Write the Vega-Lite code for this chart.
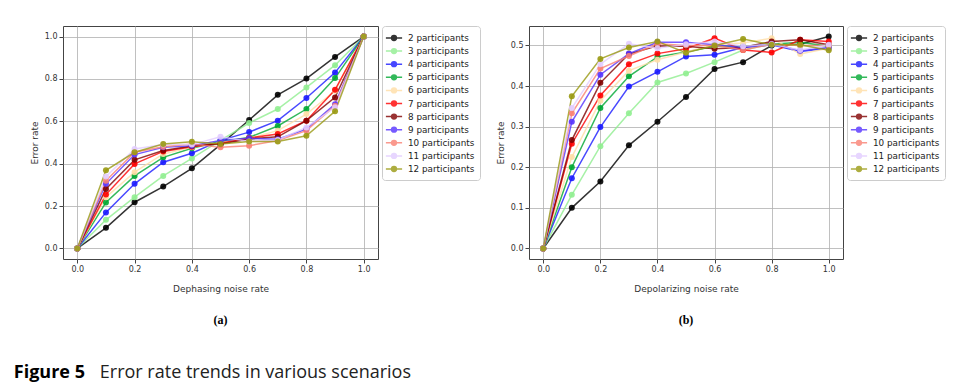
{
  "$schema": "https://vega.github.io/schema/vega-lite/v6.json",
  "background": "white",
  "padding": {"left": 13, "top": 25, "right": 4, "bottom": 8},
  "title": {"text": "Error rate trends in various scenarios", "orient": "bottom", "anchor": "start", "font": "Open Sans", "fontSize": 18, "fontWeight": "normal", "color": "#222222", "offset": -18, "dx": 86},
  "datasets": {
    "a": [
      {"s":"2 participants","x":0,"y":0},{"s":"2 participants","x":0.1,"y":0.097},{"s":"2 participants","x":0.2,"y":0.218},{"s":"2 participants","x":0.3,"y":0.292},{"s":"2 participants","x":0.4,"y":0.378},{"s":"2 participants","x":0.5,"y":0.49},{"s":"2 participants","x":0.6,"y":0.606},{"s":"2 participants","x":0.7,"y":0.725},{"s":"2 participants","x":0.8,"y":0.802},{"s":"2 participants","x":0.9,"y":0.904},{"s":"2 participants","x":1,"y":1},
      {"s":"3 participants","x":0,"y":0},{"s":"3 participants","x":0.1,"y":0.135},{"s":"3 participants","x":0.2,"y":0.242},{"s":"3 participants","x":0.3,"y":0.342},{"s":"3 participants","x":0.4,"y":0.425},{"s":"3 participants","x":0.5,"y":0.51},{"s":"3 participants","x":0.6,"y":0.592},{"s":"3 participants","x":0.7,"y":0.658},{"s":"3 participants","x":0.8,"y":0.76},{"s":"3 participants","x":0.9,"y":0.865},{"s":"3 participants","x":1,"y":1},
      {"s":"4 participants","x":0,"y":0},{"s":"4 participants","x":0.1,"y":0.17},{"s":"4 participants","x":0.2,"y":0.305},{"s":"4 participants","x":0.3,"y":0.407},{"s":"4 participants","x":0.4,"y":0.449},{"s":"4 participants","x":0.5,"y":0.51},{"s":"4 participants","x":0.6,"y":0.549},{"s":"4 participants","x":0.7,"y":0.603},{"s":"4 participants","x":0.8,"y":0.71},{"s":"4 participants","x":0.9,"y":0.83},{"s":"4 participants","x":1,"y":1},
      {"s":"5 participants","x":0,"y":0},{"s":"5 participants","x":0.1,"y":0.217},{"s":"5 participants","x":0.2,"y":0.342},{"s":"5 participants","x":0.3,"y":0.43},{"s":"5 participants","x":0.4,"y":0.473},{"s":"5 participants","x":0.5,"y":0.505},{"s":"5 participants","x":0.6,"y":0.524},{"s":"5 participants","x":0.7,"y":0.578},{"s":"5 participants","x":0.8,"y":0.658},{"s":"5 participants","x":0.9,"y":0.804},{"s":"5 participants","x":1,"y":1},
      {"s":"6 participants","x":0,"y":0},{"s":"6 participants","x":0.1,"y":0.242},{"s":"6 participants","x":0.2,"y":0.36},{"s":"6 participants","x":0.3,"y":0.446},{"s":"6 participants","x":0.4,"y":0.477},{"s":"6 participants","x":0.5,"y":0.5},{"s":"6 participants","x":0.6,"y":0.52},{"s":"6 participants","x":0.7,"y":0.556},{"s":"6 participants","x":0.8,"y":0.634},{"s":"6 participants","x":0.9,"y":0.744},{"s":"6 participants","x":1,"y":1},
      {"s":"7 participants","x":0,"y":0},{"s":"7 participants","x":0.1,"y":0.254},{"s":"7 participants","x":0.2,"y":0.399},{"s":"7 participants","x":0.3,"y":0.458},{"s":"7 participants","x":0.4,"y":0.48},{"s":"7 participants","x":0.5,"y":0.496},{"s":"7 participants","x":0.6,"y":0.521},{"s":"7 participants","x":0.7,"y":0.54},{"s":"7 participants","x":0.8,"y":0.603},{"s":"7 participants","x":0.9,"y":0.749},{"s":"7 participants","x":1,"y":1},
      {"s":"8 participants","x":0,"y":0},{"s":"8 participants","x":0.1,"y":0.281},{"s":"8 participants","x":0.2,"y":0.418},{"s":"8 participants","x":0.3,"y":0.462},{"s":"8 participants","x":0.4,"y":0.484},{"s":"8 participants","x":0.5,"y":0.493},{"s":"8 participants","x":0.6,"y":0.517},{"s":"8 participants","x":0.7,"y":0.527},{"s":"8 participants","x":0.8,"y":0.603},{"s":"8 participants","x":0.9,"y":0.713},{"s":"8 participants","x":1,"y":1},
      {"s":"9 participants","x":0,"y":0},{"s":"9 participants","x":0.1,"y":0.305},{"s":"9 participants","x":0.2,"y":0.443},{"s":"9 participants","x":0.3,"y":0.477},{"s":"9 participants","x":0.4,"y":0.485},{"s":"9 participants","x":0.5,"y":0.51},{"s":"9 participants","x":0.6,"y":0.52},{"s":"9 participants","x":0.7,"y":0.515},{"s":"9 participants","x":0.8,"y":0.563},{"s":"9 participants","x":0.9,"y":0.681},{"s":"9 participants","x":1,"y":1},
      {"s":"10 participants","x":0,"y":0},{"s":"10 participants","x":0.1,"y":0.32},{"s":"10 participants","x":0.2,"y":0.454},{"s":"10 participants","x":0.3,"y":0.48},{"s":"10 participants","x":0.4,"y":0.493},{"s":"10 participants","x":0.5,"y":0.477},{"s":"10 participants","x":0.6,"y":0.485},{"s":"10 participants","x":0.7,"y":0.509},{"s":"10 participants","x":0.8,"y":0.556},{"s":"10 participants","x":0.9,"y":0.673},{"s":"10 participants","x":1,"y":1},
      {"s":"11 participants","x":0,"y":0},{"s":"11 participants","x":0.1,"y":0.339},{"s":"11 participants","x":0.2,"y":0.469},{"s":"11 participants","x":0.3,"y":0.49},{"s":"11 participants","x":0.4,"y":0.49},{"s":"11 participants","x":0.5,"y":0.527},{"s":"11 participants","x":0.6,"y":0.505},{"s":"11 participants","x":0.7,"y":0.512},{"s":"11 participants","x":0.8,"y":0.571},{"s":"11 participants","x":0.9,"y":0.666},{"s":"11 participants","x":1,"y":1},
      {"s":"12 participants","x":0,"y":0},{"s":"12 participants","x":0.1,"y":0.369},{"s":"12 participants","x":0.2,"y":0.454},{"s":"12 participants","x":0.3,"y":0.493},{"s":"12 participants","x":0.4,"y":0.504},{"s":"12 participants","x":0.5,"y":0.493},{"s":"12 participants","x":0.6,"y":0.505},{"s":"12 participants","x":0.7,"y":0.505},{"s":"12 participants","x":0.8,"y":0.532},{"s":"12 participants","x":0.9,"y":0.647},{"s":"12 participants","x":1,"y":1}
    ],
    "b": [
      {"s":"2 participants","x":0,"y":0},{"s":"2 participants","x":0.1,"y":0.1},{"s":"2 participants","x":0.2,"y":0.165},{"s":"2 participants","x":0.3,"y":0.254},{"s":"2 participants","x":0.4,"y":0.312},{"s":"2 participants","x":0.5,"y":0.373},{"s":"2 participants","x":0.6,"y":0.442},{"s":"2 participants","x":0.7,"y":0.459},{"s":"2 participants","x":0.8,"y":0.5},{"s":"2 participants","x":0.9,"y":0.503},{"s":"2 participants","x":1,"y":0.522},
      {"s":"3 participants","x":0,"y":0},{"s":"3 participants","x":0.1,"y":0.132},{"s":"3 participants","x":0.2,"y":0.252},{"s":"3 participants","x":0.3,"y":0.333},{"s":"3 participants","x":0.4,"y":0.409},{"s":"3 participants","x":0.5,"y":0.431},{"s":"3 participants","x":0.6,"y":0.459},{"s":"3 participants","x":0.7,"y":0.489},{"s":"3 participants","x":0.8,"y":0.503},{"s":"3 participants","x":0.9,"y":0.5},{"s":"3 participants","x":1,"y":0.5},
      {"s":"4 participants","x":0,"y":0},{"s":"4 participants","x":0.1,"y":0.173},{"s":"4 participants","x":0.2,"y":0.299},{"s":"4 participants","x":0.3,"y":0.399},{"s":"4 participants","x":0.4,"y":0.435},{"s":"4 participants","x":0.5,"y":0.473},{"s":"4 participants","x":0.6,"y":0.477},{"s":"4 participants","x":0.7,"y":0.495},{"s":"4 participants","x":0.8,"y":0.502},{"s":"4 participants","x":0.9,"y":0.485},{"s":"4 participants","x":1,"y":0.493},
      {"s":"5 participants","x":0,"y":0},{"s":"5 participants","x":0.1,"y":0.2},{"s":"5 participants","x":0.2,"y":0.346},{"s":"5 participants","x":0.3,"y":0.424},{"s":"5 participants","x":0.4,"y":0.472},{"s":"5 participants","x":0.5,"y":0.484},{"s":"5 participants","x":0.6,"y":0.498},{"s":"5 participants","x":0.7,"y":0.498},{"s":"5 participants","x":0.8,"y":0.503},{"s":"5 participants","x":0.9,"y":0.508},{"s":"5 participants","x":1,"y":0.498},
      {"s":"6 participants","x":0,"y":0},{"s":"6 participants","x":0.1,"y":0.225},{"s":"6 participants","x":0.2,"y":0.364},{"s":"6 participants","x":0.3,"y":0.438},{"s":"6 participants","x":0.4,"y":0.465},{"s":"6 participants","x":0.5,"y":0.484},{"s":"6 participants","x":0.6,"y":0.502},{"s":"6 participants","x":0.7,"y":0.506},{"s":"6 participants","x":0.8,"y":0.518},{"s":"6 participants","x":0.9,"y":0.479},{"s":"6 participants","x":1,"y":0.493},
      {"s":"7 participants","x":0,"y":0},{"s":"7 participants","x":0.1,"y":0.258},{"s":"7 participants","x":0.2,"y":0.377},{"s":"7 participants","x":0.3,"y":0.454},{"s":"7 participants","x":0.4,"y":0.48},{"s":"7 participants","x":0.5,"y":0.492},{"s":"7 participants","x":0.6,"y":0.518},{"s":"7 participants","x":0.7,"y":0.489},{"s":"7 participants","x":0.8,"y":0.483},{"s":"7 participants","x":0.9,"y":0.514},{"s":"7 participants","x":1,"y":0.51},
      {"s":"8 participants","x":0,"y":0},{"s":"8 participants","x":0.1,"y":0.267},{"s":"8 participants","x":0.2,"y":0.408},{"s":"8 participants","x":0.3,"y":0.479},{"s":"8 participants","x":0.4,"y":0.499},{"s":"8 participants","x":0.5,"y":0.498},{"s":"8 participants","x":0.6,"y":0.492},{"s":"8 participants","x":0.7,"y":0.495},{"s":"8 participants","x":0.8,"y":0.51},{"s":"8 participants","x":0.9,"y":0.514},{"s":"8 participants","x":1,"y":0.502},
      {"s":"9 participants","x":0,"y":0},{"s":"9 participants","x":0.1,"y":0.312},{"s":"9 participants","x":0.2,"y":0.428},{"s":"9 participants","x":0.3,"y":0.48},{"s":"9 participants","x":0.4,"y":0.508},{"s":"9 participants","x":0.5,"y":0.508},{"s":"9 participants","x":0.6,"y":0.502},{"s":"9 participants","x":0.7,"y":0.495},{"s":"9 participants","x":0.8,"y":0.504},{"s":"9 participants","x":0.9,"y":0.487},{"s":"9 participants","x":1,"y":0.495},
      {"s":"10 participants","x":0,"y":0},{"s":"10 participants","x":0.1,"y":0.333},{"s":"10 participants","x":0.2,"y":0.443},{"s":"10 participants","x":0.3,"y":0.474},{"s":"10 participants","x":0.4,"y":0.504},{"s":"10 participants","x":0.5,"y":0.5},{"s":"10 participants","x":0.6,"y":0.5},{"s":"10 participants","x":0.7,"y":0.489},{"s":"10 participants","x":0.8,"y":0.503},{"s":"10 participants","x":0.9,"y":0.5},{"s":"10 participants","x":1,"y":0.5},
      {"s":"11 participants","x":0,"y":0},{"s":"11 participants","x":0.1,"y":0.346},{"s":"11 participants","x":0.2,"y":0.454},{"s":"11 participants","x":0.3,"y":0.504},{"s":"11 participants","x":0.4,"y":0.493},{"s":"11 participants","x":0.5,"y":0.503},{"s":"11 participants","x":0.6,"y":0.51},{"s":"11 participants","x":0.7,"y":0.498},{"s":"11 participants","x":0.8,"y":0.503},{"s":"11 participants","x":0.9,"y":0.489},{"s":"11 participants","x":1,"y":0.502},
      {"s":"12 participants","x":0,"y":0},{"s":"12 participants","x":0.1,"y":0.375},{"s":"12 participants","x":0.2,"y":0.467},{"s":"12 participants","x":0.3,"y":0.495},{"s":"12 participants","x":0.4,"y":0.51},{"s":"12 participants","x":0.5,"y":0.482},{"s":"12 participants","x":0.6,"y":0.5},{"s":"12 participants","x":0.7,"y":0.516},{"s":"12 participants","x":0.8,"y":0.502},{"s":"12 participants","x":0.9,"y":0.502},{"s":"12 participants","x":1,"y":0.488}
    ]
  },
  "vconcat": [
    {
      "title": {"text": "Figure 5", "orient": "bottom", "anchor": "start", "frame": "bounds", "font": "Open Sans", "fontSize": 18, "fontWeight": "bold", "color": "#000000", "offset": 37, "dx": -16},
      "spacing": 14,
      "resolve": {"legend": {"color": "independent"}},
      "hconcat": [
        {
          "width": 315,
          "height": 233,
          "title": {"text": "(a)", "orient": "bottom", "anchor": "middle", "frame": "group", "font": "Liberation Serif", "fontSize": 12, "fontWeight": "bold", "color": "#000000", "offset": 22},
          "data": {"name": "a"},
          "encoding": {
            "x": {"field": "x", "type": "quantitative", "scale": {"domain": [-0.05, 1.05], "nice": false, "zero": false}, "axis": {"values": [0, 0.2, 0.4, 0.6, 0.8, 1.0], "format": ".1f", "title": "Dephasing noise rate"}},
            "y": {"field": "y", "type": "quantitative", "scale": {"domain": [-0.05, 1.05], "nice": false, "zero": false}, "axis": {"values": [0, 0.2, 0.4, 0.6, 0.8, 1.0], "format": ".1f", "title": "Error rate"}},
            "color": {"field": "s", "type": "nominal", "sort": null, "title": null,
              "scale": {"domain": ["2 participants","3 participants","4 participants","5 participants","6 participants","7 participants","8 participants","9 participants","10 participants","11 participants","12 participants"],
                        "range": ["#000000","#90ee90","#1a1aff","#00a832","#ffdea6","#ff0000","#800000","#5533ff","#fa8072","#e2ccff","#999911"]}}
          },
          "layer": [
            {"mark": {"type": "line", "strokeWidth": 1.5, "opacity": 0.8}},
            {"mark": {"type": "point", "filled": true, "size": 36, "opacity": 0.9}}
          ]
        },
        {
          "width": 314,
          "height": 233,
          "title": {"text": "(b)", "orient": "bottom", "anchor": "middle", "frame": "group", "font": "Liberation Serif", "fontSize": 12, "fontWeight": "bold", "color": "#000000", "offset": 22},
          "data": {"name": "b"},
          "encoding": {
            "x": {"field": "x", "type": "quantitative", "scale": {"domain": [-0.05, 1.05], "nice": false, "zero": false}, "axis": {"values": [0, 0.2, 0.4, 0.6, 0.8, 1.0], "format": ".1f", "title": "Depolarizing noise rate"}},
            "y": {"field": "y", "type": "quantitative", "scale": {"domain": [-0.026, 0.548], "nice": false, "zero": false}, "axis": {"values": [0, 0.1, 0.2, 0.3, 0.4, 0.5], "format": ".1f", "title": "Error rate"}},
            "color": {"field": "s", "type": "nominal", "sort": null, "title": null,
              "scale": {"domain": ["2 participants","3 participants","4 participants","5 participants","6 participants","7 participants","8 participants","9 participants","10 participants","11 participants","12 participants"],
                        "range": ["#000000","#90ee90","#1a1aff","#00a832","#ffdea6","#ff0000","#800000","#5533ff","#fa8072","#e2ccff","#999911"]}}
          },
          "layer": [
            {"mark": {"type": "line", "strokeWidth": 1.5, "opacity": 0.8}},
            {"mark": {"type": "point", "filled": true, "size": 36, "opacity": 0.9}}
          ]
        }
      ]
    }
  ],
  "config": {
    "view": {"stroke": "#444444", "strokeWidth": 1},
    "axis": {"grid": true, "gridColor": "#b0b0b0", "gridOpacity": 0.8, "gridWidth": 1, "domain": false, "tickColor": "#444444", "tickSize": 4, "labelFont": "DejaVu Sans", "labelFontSize": 8, "labelColor": "#333333", "titleFont": "DejaVu Sans", "titleFontSize": 9, "titleFontWeight": "normal", "titleColor": "#333333", "labelPadding": 2},
    "axisY": {"titlePadding": 5},
    "axisX": {"titlePadding": 11},
    "legend": {"orient": "right", "offset": 4, "strokeColor": "#cccccc", "cornerRadius": 3, "padding": 5, "fillColor": "white",
      "labelFont": "DejaVu Sans", "labelFontSize": 8.8, "labelColor": "#222222",
      "symbolType": "M-1.35,0L1.35,0M0.4,0A0.4,0.4,0,1,1,-0.4,0A0.4,0.4,0,1,1,0.4,0",
      "symbolSize": 144, "symbolStrokeWidth": 1.5, "rowPadding": 0.1, "labelOffset": 7}
  }
}
